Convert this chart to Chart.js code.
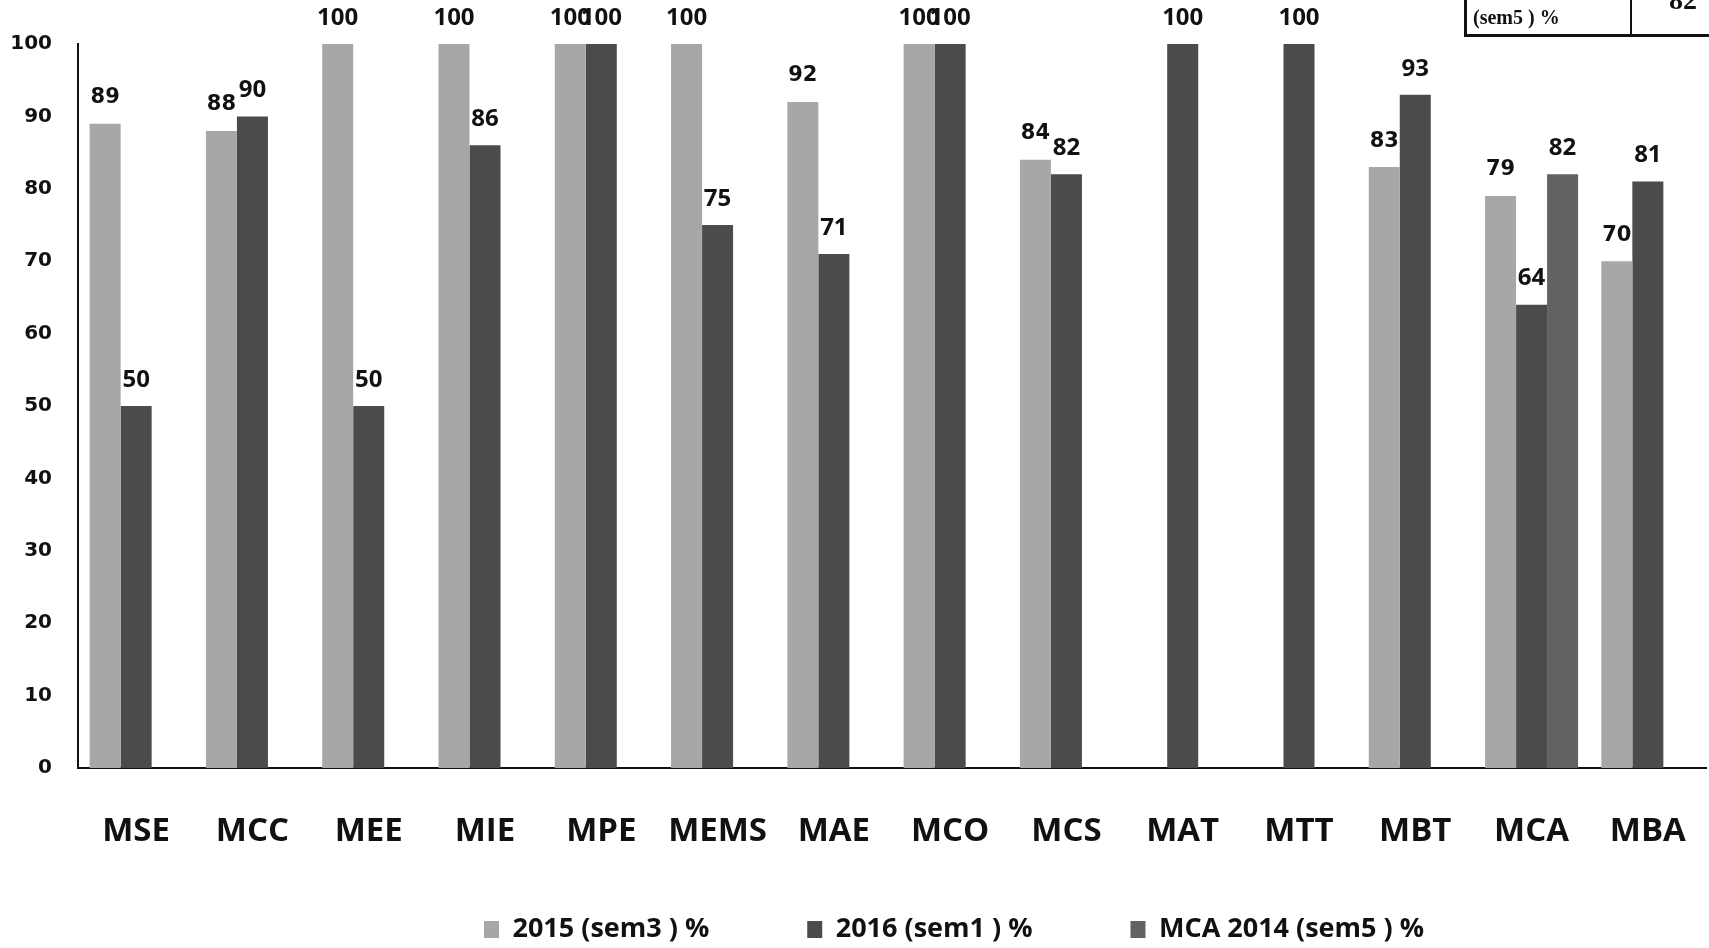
<!DOCTYPE html>
<html>
  <head>
    <title>Result %</title>
    <script src="https://cdn.jsdelivr.net/npm/chart.js"></script>
    <style>
      body { margin: 0; background: #fff; }
      #wrap { position: relative; width: 1709px; height: 948px; overflow: hidden; }
      #tbl {
        position: absolute; left: 1464px; top: -4px; width: 260px; height: 38px;
        border-left: 3px solid #111; border-bottom: 3px solid #111;
        font-family: "Liberation Serif", serif; font-weight: bold; color: #111;
      }
      #tbl .div { position: absolute; left: 163px; top: 0; width: 2px; height: 38px; background: #111; }
      #tbl .t1 { position: absolute; left: 6px; top: 10px; font-size: 20px; }
      #tbl .t2 { position: absolute; left: 202px; top: -12px; font-size: 28px; }
    </style>
  </head>
  <body>
    <div id="wrap">
      <canvas id="myChart" width="1709" height="948"></canvas>
      <div id="tbl"><div class="div"></div><span class="t1">(sem5 ) %</span><span class="t2">82</span></div>
    </div>
    <script>
      // data
      const categories = ["MSE", "MCC", "MEE", "MIE", "MPE", "MEMS", "MAE", "MCO", "MCS", "MAT", "MTT", "MBT", "MCA", "MBA"];
      const sem3_2015 = [89, 88, 100, 100, 100, 100, 92, 100, 84, null, null, 83, 79, 70];
      const sem1_2016 = [50, 90, 50, 86, 100, 75, 71, 100, 82, 100, 100, 93, 64, 81];
      const mca2014_sem5 = [null, null, null, null, null, null, null, null, null, null, null, null, 82, null];
      const seriesNames = ["2015 (sem3 ) %", "2016 (sem1 ) %", "MCA 2014 (sem5 ) %"];
      const yMin = 0, yMax = 100, yStep = 10;

      // value labels above the bars
      const barLabels = {
        id: "barLabels",
        afterDatasetsDraw(chart) {
          const ctx = chart.ctx;
          ctx.save();
          ctx.fillStyle = "#111";
          ctx.textAlign = "center";
          ctx.textBaseline = "middle";
          chart.data.datasets.forEach((ds, i) => {
            chart.getDatasetMeta(i).data.forEach((bar, j) => {
              const v = ds.data[j];
              if (v === null) return;
              if (i === 0 && v < 100) ctx.font = "bold 21px 'DejaVu Sans'";
              else ctx.font = "bold 24px 'Open Sans'";
              ctx.fillText(v, bar.x, bar.y - 26);
            });
          });
          ctx.restore();
        },
      };

      // legend sits right of centre and low in the original
      const legendShift = {
        id: "legendShift",
        afterLayout(chart) {
          const lg = chart.legend;
          const dy = 818 - lg.top;
          lg.left += 97; lg.right += 97;
          lg.top += dy; lg.bottom += dy;
        },
      };

      const ctx = document.getElementById("myChart").getContext("2d");
      const chart = new Chart(ctx, {
        type: "bar",
        data: {
          labels: categories,
          datasets: [
            { label: seriesNames[0], data: sem3_2015, backgroundColor: "#a7a7a7", borderWidth: 0 },
            { label: seriesNames[1], data: sem1_2016, backgroundColor: "#4b4b4b", borderWidth: 0 },
            { label: seriesNames[2], data: mca2014_sem5, backgroundColor: "#626262", borderWidth: 0 },
          ],
        },
        options: {
          responsive: false,
          animation: false,
          layout: { padding: { top: 44, left: 8, right: 3, bottom: -39 } },
          datasets: { bar: { categoryPercentage: 0.8, barPercentage: 1.0 } },
          scales: {
            x: {
              grid: { display: false, drawTicks: false },
              border: { display: true, color: "#111", width: 2 },
              ticks: { color: "#111", padding: 44, maxRotation: 0, autoSkip: false, font: { family: "Open Sans", weight: "bold", size: 33 } },
              afterFit(scale) {
                scale.height = 84;
                scale.paddingLeft = 0;
                scale.paddingRight = 0;
              },
            },
            y: {
              min: yMin,
              max: yMax,
              grid: { display: false, drawTicks: false },
              border: { display: true, color: "#111", width: 2 },
              ticks: { stepSize: yStep, color: "#111", padding: 26, font: { family: "DejaVu Sans", weight: "bold", size: 20 } },
              afterFit(scale) { scale.width = 70; },
            },
          },
          plugins: {
            tooltip: { enabled: false },
            legend: {
              position: "bottom",
              labels: {
                color: "#111",
                boxWidth: 15,
                boxHeight: 17,
                padding: 98,
                font: { family: "Open Sans", weight: "bold", size: 27 },
              },
            },
          },
        },
        plugins: [barLabels, legendShift],
      });
    </script>
  </body>
</html>
